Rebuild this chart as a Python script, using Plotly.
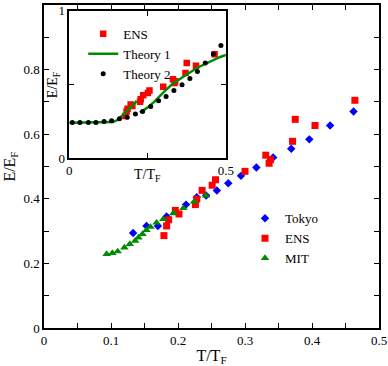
import plotly.graph_objects as go

# main panel data
tokyo_x = [0.133, 0.153, 0.170, 0.183, 0.212, 0.228, 0.242, 0.258, 0.275, 0.294,
           0.317, 0.342, 0.369, 0.396, 0.427, 0.462]
tokyo_y = [0.294, 0.316, 0.316, 0.345, 0.382, 0.405, 0.410, 0.426, 0.448, 0.471,
           0.497, 0.528, 0.555, 0.584, 0.627, 0.670]

ens_x = [0.179, 0.183, 0.186, 0.196, 0.2015, 0.226, 0.228, 0.236, 0.251, 0.256,
         0.300, 0.331, 0.336, 0.338, 0.371, 0.375, 0.4045, 0.464]
ens_y = [0.286, 0.316, 0.335, 0.364, 0.353, 0.382, 0.399, 0.426, 0.442, 0.459,
         0.485, 0.535, 0.510, 0.521, 0.578, 0.646, 0.627, 0.705]

mit_x = [0.0935, 0.102, 0.110, 0.120, 0.128, 0.136, 0.141, 0.147, 0.153, 0.159,
         0.168, 0.178, 0.193, 0.208, 0.224, 0.242]
mit_y = [0.229, 0.232, 0.237, 0.249, 0.260, 0.270, 0.280, 0.291, 0.303, 0.313,
         0.326, 0.337, 0.355, 0.371, 0.391, 0.410]

# inset theory curves
theory1_x = [0.0, 0.06, 0.12, 0.14, 0.155, 0.17, 0.19, 0.21, 0.215, None,
             0.225, 0.247, 0.27, 0.289, 0.31, 0.332, 0.352, 0.374, 0.395, 0.417,
             0.44, 0.46, 0.48, 0.5]
theory1_y = [0.24, 0.24, 0.24, 0.245, 0.26, 0.29, 0.33, 0.375, 0.39, None,
             0.31, 0.339, 0.38, 0.423, 0.466, 0.509, 0.538, 0.566, 0.595, 0.622,
             0.645, 0.667, 0.685, 0.70]

theory2_x = [0.0096, 0.034, 0.061, 0.085, 0.111, 0.135, 0.160, 0.185, 0.211, 0.234,
             0.260, 0.285, 0.309, 0.334, 0.360, 0.385, 0.409, 0.434, 0.460, 0.484]
theory2_y = [0.242, 0.242, 0.242, 0.242, 0.249, 0.253, 0.267, 0.278, 0.299, 0.317,
             0.351, 0.389, 0.419, 0.459, 0.498, 0.541, 0.588, 0.645, 0.706, 0.765]

x_ticks = [i * 0.05 for i in range(11)]
x_ticktext = ["0", "", "0.1", "", "0.2", "", "0.3", "", "0.4", "", "0.5"]
y_ticks = [i * 0.1 for i in range(11)]
y_ticktext = ["0", "", "0.2", "", "0.4", "", "0.6", "", "0.8", "", "1"]

blue = "#0000ff"
red = "#ff0000"
green = "#008c00"
serif = "Liberation Serif, Times New Roman, Times, serif"

fig = go.Figure()

fig.add_trace(go.Scatter(x=tokyo_x, y=tokyo_y, mode="markers", name="Tokyo",
                         marker=dict(symbol="diamond", size=6.5, color=blue)))
fig.add_trace(go.Scatter(x=ens_x, y=ens_y, mode="markers", name="ENS",
                         marker=dict(symbol="square", size=7, color=red)))
fig.add_trace(go.Scatter(x=mit_x, y=mit_y, mode="markers", name="MIT",
                         marker=dict(symbol="triangle-up", size=7.5, color=green)))

# inset
fig.add_trace(go.Scatter(x=ens_x, y=ens_y, mode="markers", name="ENS",
                         xaxis="x2", yaxis="y2", legend="legend2",
                         marker=dict(symbol="square", size=6.5, color=red)))
fig.add_trace(go.Scatter(x=theory1_x, y=theory1_y, mode="lines", name="Theory 1",
                         xaxis="x2", yaxis="y2", legend="legend2",
                         line=dict(color=green, width=2.5)))
fig.add_trace(go.Scatter(x=theory2_x, y=theory2_y, mode="markers", name="Theory 2",
                         xaxis="x2", yaxis="y2", legend="legend2",
                         marker=dict(symbol="circle", size=5, color="black")))

axis_style = dict(showline=True, linecolor="black", linewidth=1.5, mirror="ticks",
                  ticks="inside", ticklen=5, tickwidth=1.2, tickcolor="black",
                  showgrid=False, zeroline=False, automargin=False,
                  tickfont=dict(family=serif, size=13, color="black"))

fig.update_layout(
    width=388, height=366,
    margin=dict(l=44, r=9, t=5, b=38),
    paper_bgcolor="white", plot_bgcolor="white",
    font=dict(family=serif, color="black"),
    xaxis=dict(range=[0, 0.5], tickvals=x_ticks, ticktext=x_ticktext,
               title=dict(text="T/T<sub>F</sub>", font=dict(size=16), standoff=2),
               **axis_style),
    yaxis=dict(range=[0, 1], tickvals=y_ticks, ticktext=y_ticktext,
               title=dict(text="E/E<sub>F</sub>", font=dict(size=16), standoff=4),
               **axis_style),
    xaxis2=dict(domain=[0.0755, 0.543], anchor="y2", range=[0, 0.5],
                tickvals=[0, 0.25, 0.5], ticktext=["0", "", "0.5"], **axis_style),
    yaxis2=dict(domain=[0.526, 0.982], anchor="x2", range=[0, 1],
                tickvals=[0, 0.5, 1], ticktext=["0", "", "1"], **axis_style),
    showlegend=True,
    legend=dict(x=0.60, y=0.386, xanchor="left", yanchor="top",
                bgcolor="rgba(0,0,0,0)", font=dict(family=serif, size=13),
                tracegroupgap=0),
    legend2=dict(x=0.117, y=0.957, xanchor="left", yanchor="top",
                 bgcolor="rgba(0,0,0,0)", font=dict(family=serif, size=13),
                 tracegroupgap=0),
    annotations=[
        dict(text="T/T<sub>F</sub>", x=0.25, xref="x2", y=-0.05, yref="y2 domain",
             xanchor="center", yanchor="top", showarrow=False,
             font=dict(family=serif, size=14)),
        dict(text="E/E<sub>F</sub>", x=0.028, xref="paper", y=0.753, yref="paper",
             xanchor="center", yanchor="middle", textangle=-90, showarrow=False,
             font=dict(family=serif, size=14)),
    ],
)

fig.write_html("out.html", config={"displayModeBar": False},
               post_script="document.body.style.margin='0';")
